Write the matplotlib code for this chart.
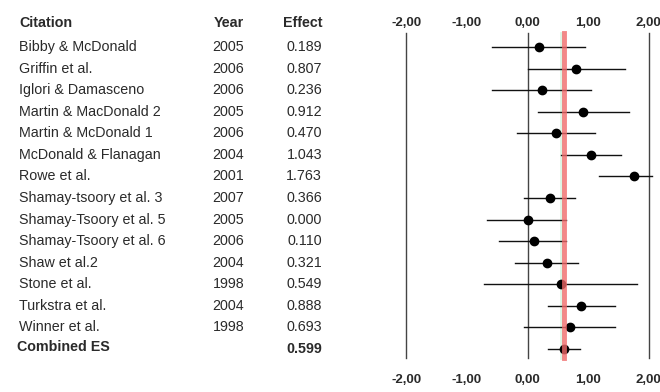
"""Forest plot of effect sizes (meta-analysis) with study table on the left."""
import matplotlib
matplotlib.use("Agg")
import matplotlib.pyplot as plt
import matplotlib.transforms as mtransforms

citations = ["Bibby & McDonald", "Griffin et al.", "Iglori & Damasceno",
             "Martin & MacDonald 2", "Martin & McDonald 1", "McDonald & Flanagan",
             "Rowe et al.", "Shamay-tsoory et al. 3", "Shamay-Tsoory et al. 5",
             "Shamay-Tsoory et al. 6", "Shaw et al.2", "Stone et al.",
             "Turkstra et al.", "Winner et al."]
years = ["2005", "2006", "2006", "2005", "2006", "2004", "2001", "2007",
         "2005", "2006", "2004", "1998", "2004", "1998"]
effects = [0.189, 0.807, 0.236, 0.912, 0.470, 1.043, 1.763, 0.366,
           0.000, 0.110, 0.321, 0.549, 0.888, 0.693]
lower = [-0.58, 0.00, -0.59, 0.17, -0.18, 0.55, 1.18, -0.06,
         -0.66, -0.47, -0.20, -0.71, 0.34, -0.05]
upper = [0.95, 1.61, 1.05, 1.67, 1.11, 1.54, 2.05, 0.78,
         0.63, 0.64, 0.83, 1.80, 1.45, 1.45]
combined_es = 0.599
combined_ci = (0.34, 0.86)
ticks = [-2, -1, 0, 1, 2]
ref_lines = [-2, 0, 2]

INK = "#2a2a2a"
plt.rcParams["font.family"] = ["Liberation Sans", "DejaVu Sans"]

fig = plt.figure(figsize=(6.6, 3.92), dpi=100)
ax = fig.add_axes([394 / 660, 0, 267 / 660, 1])
ax.set_xlim(-2.2, 2.2)
ax.set_ylim(16.0, -2.18)
ax.axis("off")

n = len(citations)
rows = list(range(n))
comb_row = n

# reference lines
for x in ref_lines:
    ax.plot([x, x], [-0.65, 14.42], color="#444444", lw=1.0, zorder=1)
ax.plot([0.55, 0.55], [-0.65, 14.42], color="#dcf5e4", lw=2.0, zorder=1)

# study CIs and points
for r, lo, hi in zip(rows, lower, upper):
    ax.plot([lo, hi], [r, r], color="#111111", lw=1.0, zorder=2)
ax.plot(effects, rows, "o", color="black", ms=6, zorder=3)
ax.plot(list(combined_ci), [comb_row, comb_row], color="#111111", lw=1.0, zorder=2)
ax.plot([combined_es], [comb_row], "o", color="black", ms=6, zorder=3)

# combined effect line
ax.plot([combined_es, combined_es], [-0.65, 14.42], color="#f06a6a",
        lw=3.5, alpha=0.8, zorder=4)

# tick labels top and bottom
for t in ticks:
    lab = f"{t:.2f}".replace(".", ",")
    for y in (-1.13, 15.44):
        ax.text(t, y, lab, ha="center", va="center", fontsize=9.5,
                fontweight="bold", color=INK)

# table on the left
tr = mtransforms.blended_transform_factory(fig.transFigure, ax.transData)
fs = 10.3
ax.text(19 / 660, -1.1, "Citation", transform=tr, ha="left", va="center",
        fontsize=fs, fontweight="bold", color=INK)
ax.text(244 / 660, -1.1, "Year", transform=tr, ha="right", va="center",
        fontsize=fs, fontweight="bold", color=INK)
ax.text(322 / 660, -1.1, "Effect", transform=tr, ha="right", va="center",
        fontsize=fs, fontweight="bold", color=INK)
for r, c, yr, e in zip(rows, citations, years, effects):
    ax.text(19 / 660, r, c, transform=tr, ha="left", va="center",
            fontsize=fs, color=INK)
    ax.text(244 / 660, r, yr, transform=tr, ha="right", va="center",
            fontsize=fs, color=INK)
    ax.text(322 / 660, r, f"{e:.3f}", transform=tr, ha="right", va="center",
            fontsize=fs, color=INK)
ax.text(17 / 660, comb_row - 0.1, "Combined ES", transform=tr, ha="left",
        va="center", fontsize=fs, fontweight="bold", color=INK)
ax.text(322 / 660, comb_row, f"{combined_es:.3f}", transform=tr, ha="right",
        va="center", fontsize=fs, fontweight="bold", color=INK)

fig.savefig("out.png", dpi=100)
